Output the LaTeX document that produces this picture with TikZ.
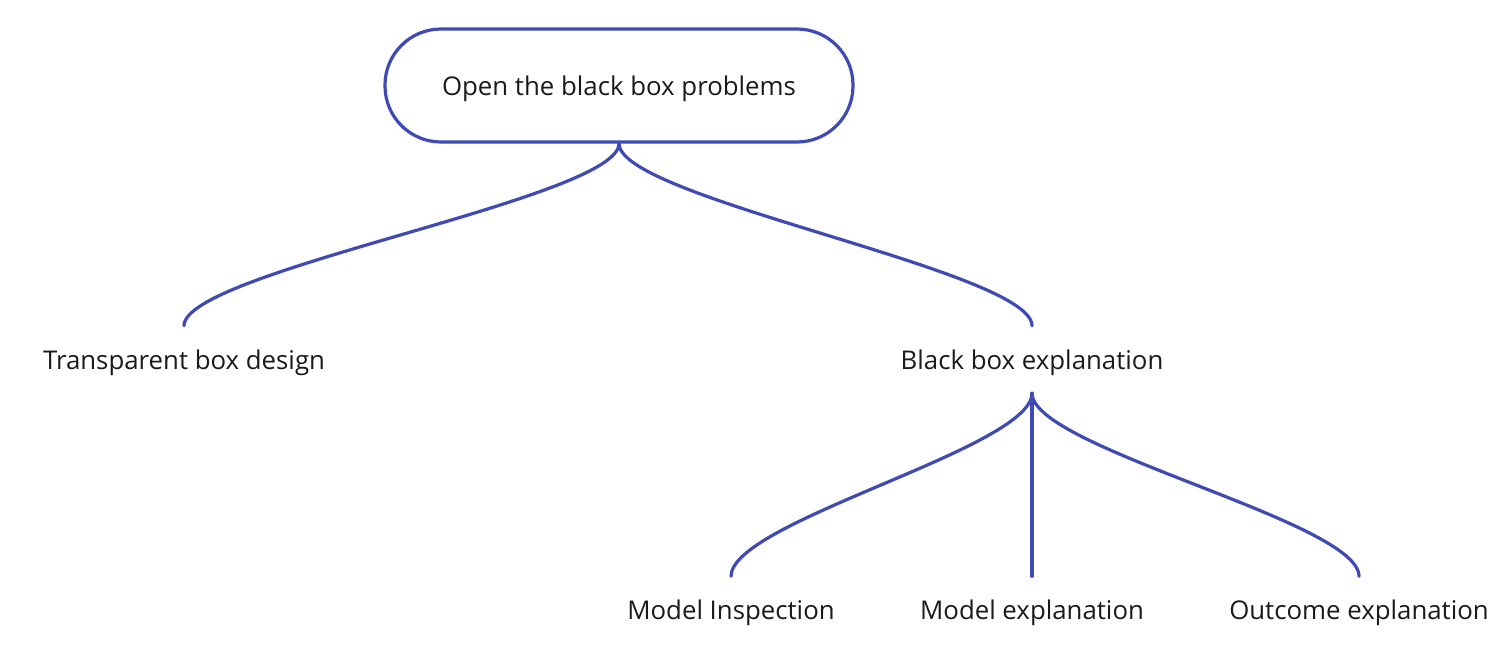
\documentclass[tikz,border=0pt]{standalone}
\usepackage{fontspec}
\setmainfont{Open Sans}
\definecolor{edgeblue}{RGB}{64,74,181}
\definecolor{txt}{RGB}{26,26,26}
\begin{document}
\begin{tikzpicture}[x=1pt,y=-1pt,
  pill/.style={draw=edgeblue,line width=3.2pt,rounded corners=56pt,minimum width=468pt,minimum height=113pt,inner sep=0pt,font=\fontsize{25.8}{30}\selectfont,text=txt,text height=25.6pt,text depth=6.2pt},
  lbl/.style={inner sep=0pt,minimum height=67pt,font=\fontsize{25.8}{30}\selectfont,text=txt,text height=25.6pt,text depth=6.2pt},
  link/.style={draw=edgeblue,line width=3.2pt,line cap=round}
]
\useasboundingbox (0,0) rectangle (1512,661);
\node[pill] (root) at (619,85.5) {Open the black box problems};
\node[lbl] (tbd) at (184,359.5) {Transparent box design};
\node[lbl] (bbe) at (1032,359.5) {Black box explanation};
\node[lbl] (mi) at (731,610) {Model Inspection};
\node[lbl] (me) at (1032,610) {Model explanation};
\node[lbl] (oe) at (1359,610) {Outcome explanation};
\draw[link] (root.south) .. controls +(0,55) and +(0,-55) .. (tbd.north);
\draw[link] (root.south) .. controls +(0,55) and +(0,-55) .. (bbe.north);
\draw[link] (bbe.south) .. controls +(0,55) and +(0,-55) .. (mi.north);
\draw[link] (bbe.south) -- (me.north);
\draw[link] (bbe.south) .. controls +(0,55) and +(0,-55) .. (oe.north);
\end{tikzpicture}
\end{document}
